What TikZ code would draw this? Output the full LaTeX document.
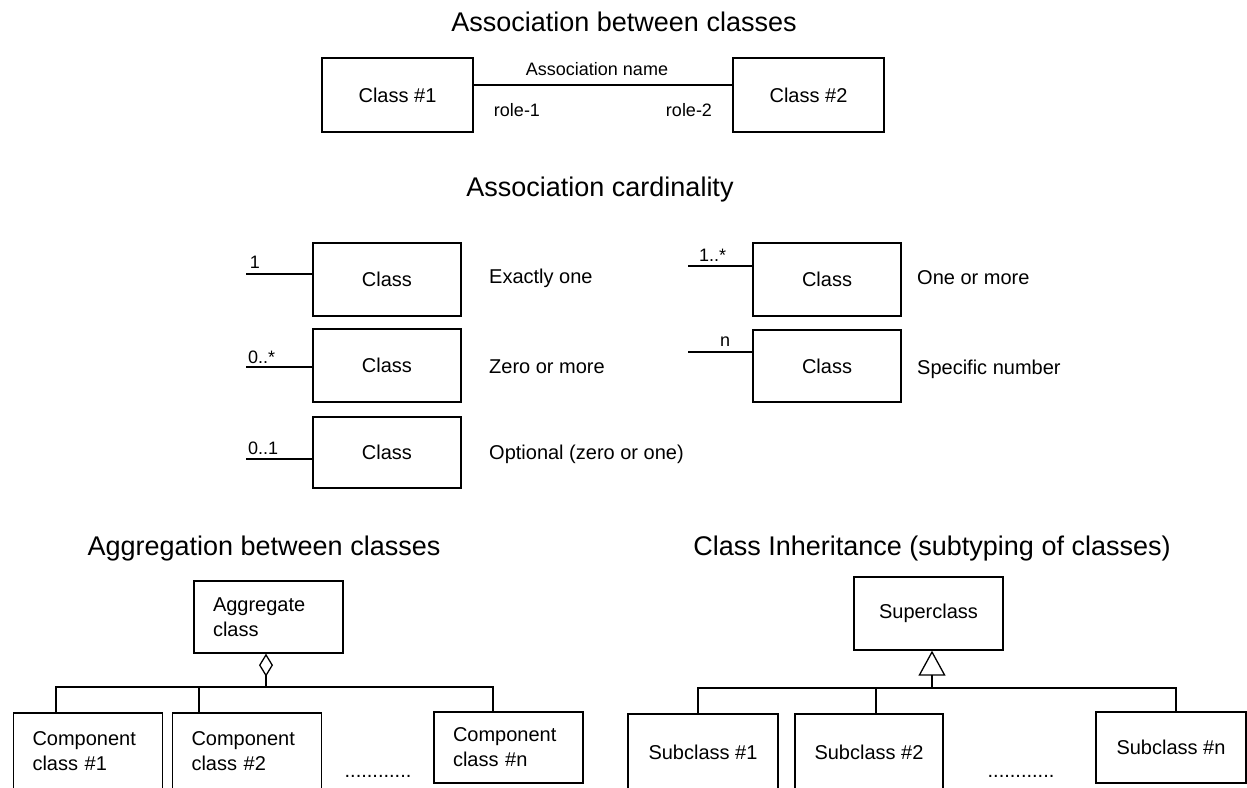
\documentclass[tikz,border=0pt]{standalone}
\usepackage{fontspec}
\setmainfont{Liberation Sans}
\usetikzlibrary{arrows.meta}
\begin{document}
\begin{tikzpicture}[x=1pt,y=-1pt,
  box/.style={draw, line width=1.3pt, inner sep=0pt, font=\fontsize{20}{25}\selectfont},
  leftbox/.style={box, align=left, inner xsep=19pt, text width=111pt},
  title/.style={font=\fontsize{27}{32}\selectfont, inner sep=0pt},
  lbl/.style={font=\fontsize{18}{21}\selectfont, inner sep=0pt},
  desc/.style={font=\fontsize{20}{24}\selectfont, anchor=west, inner sep=0pt},
  conn/.style={line width=1.3pt},
  dots/.style={font=\fontsize{20}{24}\selectfont, inner sep=0pt},
]
\useasboundingbox (0,0) rectangle (1247,787);

% ---------- Association between classes ----------
\node[title] (t1) at (624,22) {Association between classes};
\node[box, minimum width=151pt, minimum height=74pt] (c1) at (397.5,95) {Class \#1};
\node[box, minimum width=151pt, minimum height=74pt] (c2) at (808.5,95) {Class \#2};
\draw[conn] ([yshift=10pt]c1.east) -- ([yshift=10pt]c2.west);
\node[lbl] (an) at (597,69) {Association name};
\node[lbl] (r1) at (517,110) {role-1};
\node[lbl] (r2) at (689,110) {role-2};

% ---------- Association cardinality ----------
\node[title] (t2) at (600,190) {Association cardinality};
\node[box, minimum width=148pt, minimum height=73pt] (k1) at (387,279.5) {Class};
\node[box, minimum width=148pt, minimum height=73pt] (k2) at (387,365.5) {Class};
\node[box, minimum width=148pt, minimum height=71pt] (k3) at (387,452.5) {Class};
\node[box, minimum width=148pt, minimum height=73pt] (k4) at (827,279.5) {Class};
\node[box, minimum width=148pt, minimum height=72pt] (k5) at (827,366) {Class};

\draw[conn] ([yshift=5.5pt]k1.west) -- ++(-66,0);
\draw[conn] ([yshift=-1.5pt]k2.west) -- ++(-66,0);
\draw[conn] ([yshift=-6.5pt]k3.west) -- ++(-66,0);
\draw[conn] ([yshift=13.5pt]k4.west) -- ++(-64,0);
\draw[conn] ([yshift=14pt]k5.west) -- ++(-64,0);

\node[lbl] (m1) at (255,262) {1};
\node[lbl, anchor=west] (m2) at (248,357) {0..*};
\node[lbl, anchor=west] (m3) at (248,448) {0..1};
\node[lbl, anchor=west] (m4) at (699,255) {1..*};
\node[lbl] (m5) at (725,342) {n};

\node[desc] (d1) at (489,278) {Exactly one};
\node[desc] (d2) at (489,367) {Zero or more};
\node[desc] (d3) at (489,454) {Optional (zero or one)};
\node[desc] (d4) at (917,278) {One or more};
\node[desc] (d5) at (917,369) {Specific number};

% ---------- Aggregation between classes ----------
\node[title] (t3) at (264,549) {Aggregation between classes};
\node[leftbox, minimum height=72pt] (agg) at (268.5,617) {Aggregate\\class};
\node[leftbox, minimum height=77pt] (p1) at (88,751.5) {Component\\class \#1};
\node[leftbox, minimum height=77pt] (p2) at (247,751.5) {Component\\class \#2};
\node[leftbox, minimum height=71pt] (pn) at (508.5,747.5) {Component\\class \#n};
\node[dots] (pd) at (378,776) {............};

\coordinate (aj) at (266,687);
\coordinate (a1) at (56,713);
\coordinate (a2) at (199,713);
\coordinate (an2) at (493,712);
\draw[conn, {Diamond[open, length=23pt, width=14pt, line width=1.3pt]}-] (agg.south -| aj) -- (aj);
\draw[conn] (a1) |- (aj) -| (an2);
\draw[conn] (a2) -- (a2 |- aj);

% ---------- Class Inheritance ----------
\node[title] (t4) at (932,549) {Class Inheritance (subtyping of classes)};
\node[box, minimum width=149pt, minimum height=73pt] (sup) at (928.5,613.5) {Superclass};
\node[box, minimum width=150pt, minimum height=76pt] (s1) at (703,752) {Subclass \#1};
\node[box, minimum width=148pt, minimum height=76pt] (s2) at (869,752) {Subclass \#2};
\node[box, minimum width=150pt, minimum height=71pt] (sn) at (1171,747.5) {Subclass \#n};
\node[dots] (sd) at (1021,776) {............};

\coordinate (ij) at (932,688);
\coordinate (i1) at (698,714);
\coordinate (i2) at (876,714);
\coordinate (in) at (1176,712);
\draw[conn, {Triangle[open, length=25pt, width=27pt, line width=1.3pt]}-] (sup.south -| ij) -- (ij);
\draw[conn] (i1) |- (ij) -| (in);
\draw[conn] (i2) -- (i2 |- ij);
\end{tikzpicture}
\end{document}
